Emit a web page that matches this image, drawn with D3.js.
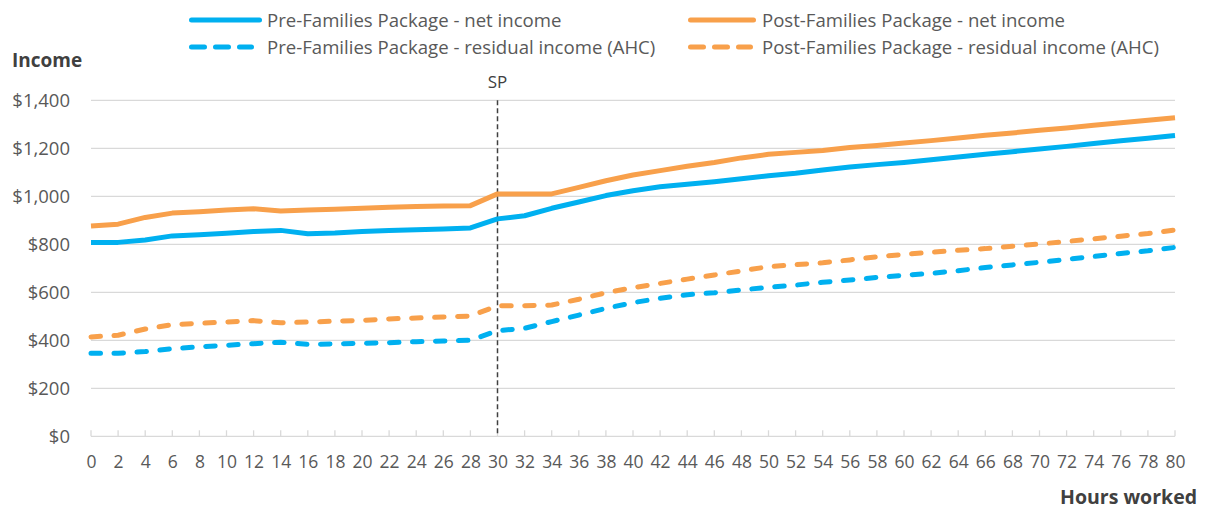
<!DOCTYPE html>
<html>
<head>
<meta charset="utf-8">
<script src="https://cdn.jsdelivr.net/npm/d3@7"></script>
<style>
  html, body { margin: 0; padding: 0; background: #fff; }
  svg { display: block; font-family: "Open Sans", "Liberation Sans", sans-serif; }
</style>
</head>
<body>
<svg id="chart" width="1206" height="509"></svg>
<script>
const hours = d3.range(0, 82, 2);
const xTickLabels = hours.map(String);
const yTicks = [0, 200, 400, 600, 800, 1000, 1200, 1400];

const preNet = [808, 808, 818, 835, 840, 846, 853, 858, 844, 847, 853, 857, 861, 864, 868, 906,
  919, 950, 976, 1003, 1023, 1040, 1050, 1061, 1073, 1086, 1096, 1110, 1122, 1132,
  1141, 1152, 1164, 1175, 1186, 1197, 1208, 1220, 1231, 1242, 1253];
const postNet = [876, 884, 912, 930, 936, 943, 948, 939, 943, 946, 950, 954, 957, 960, 961, 1010,
  1010, 1010, 1037, 1065, 1089, 1107, 1125, 1141, 1160, 1175, 1183, 1191, 1203, 1212,
  1222, 1232, 1243, 1254, 1264, 1275, 1285, 1296, 1306, 1317, 1327];
const preAHC = [346, 346, 353, 365, 373, 379, 386, 392, 383, 385, 387, 390, 394, 397, 400, 440,
  450, 478, 505, 533, 557, 575, 590, 598, 610, 621, 630, 642, 651, 662,
  671, 679, 690, 703, 714, 725, 737, 749, 762, 773, 787];
const postAHC = [414, 421, 447, 465, 471, 476, 482, 473, 476, 480, 483, 489, 493, 497, 501, 544,
  544, 547, 571, 598, 619, 637, 655, 672, 689, 707, 715, 723, 735, 748,
  758, 767, 775, 782, 792, 801, 812, 823, 834, 845, 860];

const seriesNames = [
  "Pre-Families Package - net income",
  "Post-Families Package - net income",
  "Pre-Families Package - residual income (AHC)",
  "Post-Families Package - residual income (AHC)"
];
const spHour = 30;

const BLUE = "#00b0f0", ORANGE = "#f8a04b";
const series = [
  { name: seriesNames[0], values: preNet, color: BLUE, dashed: false },
  { name: seriesNames[1], values: postNet, color: ORANGE, dashed: false },
  { name: seriesNames[2], values: preAHC, color: BLUE, dashed: true },
  { name: seriesNames[3], values: postAHC, color: ORANGE, dashed: true }
];

const svg = d3.select("#chart");
const x = d3.scaleLinear().domain([0, 80]).range([91, 1175]);
const y = d3.scaleLinear().domain([0, 1400]).range([436.3, 100.3]);
const TXT = "#595959";

// gridlines
svg.append("g").selectAll("line").data(yTicks).join("line")
  .attr("x1", x(0)).attr("x2", x(80))
  .attr("y1", d => y(d)).attr("y2", d => y(d))
  .attr("stroke", "#d9d9d9").attr("stroke-width", 1.3);

// y axis labels
const yAxis = d3.axisLeft(y).tickValues(yTicks).tickSize(0).tickPadding(0)
  .tickFormat(d => "$" + d3.format(",")(d));
const gy = svg.append("g").attr("transform", "translate(70,0)").call(yAxis);
gy.select(".domain").remove();
gy.selectAll("text").attr("fill", TXT).style("font-size", "18.5px").style("font-family", "'Open Sans', sans-serif");

// x axis
const xAxis = d3.axisBottom(x).tickValues(hours).tickSize(0).tickPadding(19)
  .tickFormat((d, i) => xTickLabels[i]);
const gx = svg.append("g").attr("transform", `translate(0,${y(0)})`).call(xAxis);
gx.select(".domain").remove();
gx.selectAll("text").attr("fill", TXT).style("font-size", "17.5px").style("font-family", "'Open Sans', sans-serif");
// tick marks upward
svg.append("g").selectAll("line").data(hours).join("line")
  .attr("x1", d => x(d)).attr("x2", d => x(d))
  .attr("y1", y(0)).attr("y2", y(0) - 6)
  .attr("stroke", "#d9d9d9").attr("stroke-width", 1.3);

// SP line
svg.append("line")
  .attr("x1", x(spHour)).attr("x2", x(spHour))
  .attr("y1", y(1400)).attr("y2", y(0))
  .attr("stroke", "#404040").attr("stroke-width", 1.5)
  .attr("stroke-dasharray", "5,3");
svg.append("text").attr("x", x(spHour)).attr("y", 88)
  .attr("text-anchor", "middle").attr("fill", "#404040")
  .style("font-size", "17px").text("SP");

// lines
const line = d3.line().x((d, i) => x(hours[i])).y(d => y(d));
svg.append("g").selectAll("path").data(series).join("path")
  .attr("d", d => line(d.values))
  .attr("fill", "none")
  .attr("stroke", d => d.color)
  .attr("stroke-width", 5)
  .attr("stroke-linejoin", "round")
  .attr("stroke-linecap", d => d.dashed ? "round" : "butt")
  .attr("stroke-dasharray", d => d.dashed ? "9.5,13.5" : null);

// axis titles
svg.append("text").attr("x", 12).attr("y", 67).attr("fill", "#404040")
  .style("font-size", "19px").style("font-weight", "bold").text("Income");
svg.append("text").attr("x", 1197).attr("y", 504).attr("text-anchor", "end").attr("fill", "#404040")
  .style("font-size", "19.5px").style("font-weight", "bold").text("Hours worked");

// legend
const legendPos = [
  { lx: 189, ty: 20, len: 73, tx: 78 }, { lx: 688, ty: 20, len: 68, tx: 74 },
  { lx: 189, ty: 47, len: 65, tx: 78 }, { lx: 688, ty: 47, len: 65, tx: 74 }
];
const lg = svg.append("g").selectAll("g").data(series).join("g")
  .attr("transform", (d, i) => `translate(${legendPos[i].lx},${legendPos[i].ty})`);
lg.append("line").attr("x1", 2.5).attr("x2", (d, i) => legendPos[i].len - 2.5)
  .attr("y1", 0).attr("y2", 0)
  .attr("stroke", d => d.color).attr("stroke-width", 5)
  .attr("stroke-linecap", "round")
  .attr("stroke-dasharray", d => d.dashed ? "13,11" : null);
lg.append("text").attr("x", (d, i) => legendPos[i].tx).attr("y", 0).attr("dy", "0.35em")
  .attr("fill", TXT).style("font-size", "18.6px").text(d => d.name);
</script>
</body>
</html>
